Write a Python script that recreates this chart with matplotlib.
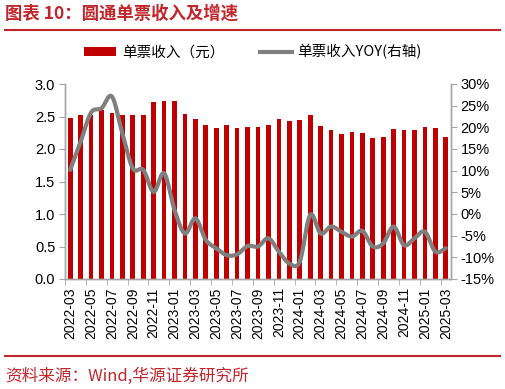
import numpy as np
import matplotlib.pyplot as plt
from matplotlib.lines import Line2D
from matplotlib.patches import Patch

plt.rcParams['font.family'] = ['Liberation Sans', 'Noto Sans CJK SC', 'DejaVu Sans']

#%% data
months = ['2022-03', '2022-04', '2022-05', '2022-06', '2022-07', '2022-08', '2022-09',
          '2022-10', '2022-11', '2022-12', '2023-01', '2023-02', '2023-03', '2023-04',
          '2023-05', '2023-06', '2023-07', '2023-08', '2023-09', '2023-10', '2023-11',
          '2023-12', '2024-01', '2024-02', '2024-03', '2024-04', '2024-05', '2024-06',
          '2024-07', '2024-08', '2024-09', '2024-10', '2024-11', '2024-12', '2025-01',
          '2025-02', '2025-03']
revenue = [2.48, 2.52, 2.52, 2.60, 2.56, 2.52, 2.52, 2.52, 2.72, 2.74, 2.74, 2.54, 2.46,
           2.37, 2.32, 2.37, 2.33, 2.34, 2.34, 2.37, 2.46, 2.43, 2.45, 2.53, 2.35, 2.30,
           2.23, 2.26, 2.25, 2.17, 2.18, 2.31, 2.29, 2.29, 2.34, 2.32, 2.18]
yoy = [10.2, 16.7, 23.4, 24.4, 27.1, 18.6, 10.5, 10.2, 5.1, 9.4, 0.9, -4.5, -1.0,
       -6.0, -7.9, -9.5, -9.3, -7.4, -7.5, -5.6, -8.7, -11.4, -11.0, -0.2, -4.5, -2.9,
       -4.1, -5.2, -3.9, -7.5, -6.8, -2.9, -7.2, -5.6, -4.1, -8.7, -7.9]

RED = '#C00000'
GRAY = '#7F7F7F'
AX = '#A6A6A6'
TXT_RED = '#C0262B'


def smooth(x, y, n=12):
    """catmull-rom curve through the points (excel style smoothed line)"""
    x = np.asarray(x, float)
    y = np.asarray(y, float)
    px = np.r_[x[0], x, x[-1]]
    py = np.r_[y[0], y, y[-1]]
    xs, ys = [], []
    t = np.linspace(0, 1, n, endpoint=False)
    for i in range(1, len(px) - 2):
        for p, out in ((px, xs), (py, ys)):
            p0, p1, p2, p3 = p[i - 1], p[i], p[i + 1], p[i + 2]
            out.extend(0.5 * (2 * p1 + (-p0 + p2) * t + (2 * p0 - 5 * p1 + 4 * p2 - p3) * t ** 2
                              + (-p0 + 3 * p1 - 3 * p2 + p3) * t ** 3))
    xs.append(x[-1])
    ys.append(y[-1])
    return np.array(xs), np.array(ys)


#%% plot
fig = plt.figure(figsize=(5.06, 3.89), dpi=100)
ax = fig.add_axes([65 / 506, 1 - 279 / 389, (451 - 65) / 506, (279 - 84) / 389])
x = np.arange(len(months))
ax.bar(x, revenue, width=0.45, color=RED, zorder=2)
ax.set_xlim(-0.5, len(months) - 0.5)
ax.set_ylim(0, 3.0)
ax.set_yticks(np.arange(0, 3.01, 0.5))
ax.set_yticklabels([f'{v:.1f}' for v in np.arange(0, 3.01, 0.5)])
ax.set_xticks(x[::2])
ax.set_xticklabels(months[::2], rotation=90)
ax.set_xticks(np.arange(-0.5, len(months) - 1, 2), minor=True)
ax.tick_params(axis='x', which='major', length=0, pad=6, labelsize=10)
ax.tick_params(axis='x', which='minor', length=4, color=AX, direction='out')
ax.tick_params(axis='y', length=4, color=AX, labelsize=10.5, pad=3)

ax2 = ax.twinx()
sx, sy = smooth(x, yoy)
ax2.plot(sx, sy, color=GRAY, lw=3, solid_capstyle='round', zorder=3)
ax2.set_ylim(-15, 30)
ax2.set_yticks(np.arange(-15, 31, 5))
ax2.set_yticklabels([f'{v}%' for v in range(-15, 31, 5)])
ax2.tick_params(axis='y', length=4, color=AX, labelsize=10.5, pad=3)

for a in (ax, ax2):
    a.spines['top'].set_visible(False)
    for s in ('left', 'right', 'bottom'):
        a.spines[s].set_color(AX)
        a.spines[s].set_linewidth(1)

#%% legend
handles = [Patch(facecolor=RED, edgecolor='none'),
           Line2D([], [], color=GRAY, lw=3)]
fig.legend(handles, ['单票收入（元）', '单票收入YOY(右轴)'], loc='center',
           bbox_to_anchor=(0.5, 1 - 52 / 389), ncol=2, frameon=False,
           prop={'family': ['Noto Sans CJK SC'], 'size': 10.5},
           handlelength=2.2, handleheight=0.6, columnspacing=2.4, handletextpad=0.4)

#%% title / source
fig.text(5 / 506, 1 - 14 / 389, '图表 10：圆通单票收入及增速', color=TXT_RED,
         fontsize=12.5, fontweight='bold', family=['Noto Sans CJK SC'], va='center')
fig.add_artist(Line2D([5 / 506, 500 / 506], [1 - 30 / 389] * 2, color=TXT_RED, lw=1.5))
fig.add_artist(Line2D([5 / 506, 500 / 506], [1 - 356 / 389] * 2, color=TXT_RED, lw=1.5))
fig.text(5 / 506, 1 - 376 / 389, '资料来源：Wind,华源证券研究所', color=TXT_RED,
         fontsize=12, family=['Noto Sans CJK SC'], va='center')

fig.savefig('out.png', dpi=100)
